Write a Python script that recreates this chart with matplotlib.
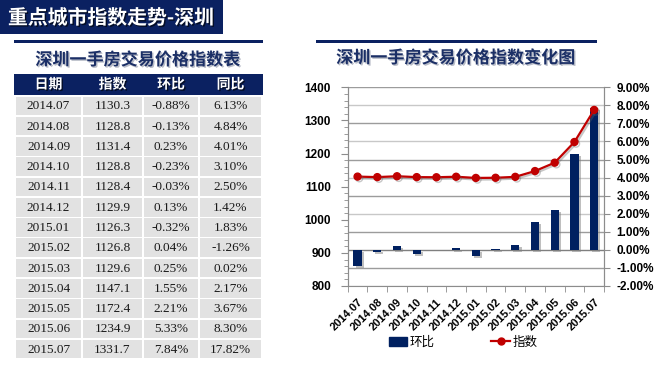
import numpy as np
import matplotlib
matplotlib.use("Agg")
import matplotlib.pyplot as plt
import matplotlib.patheffects as pe
from matplotlib.patches import Rectangle
from matplotlib.lines import Line2D
from matplotlib.ticker import MultipleLocator, FuncFormatter

# ── Data ──────────────────────────────────────────────────────────────────────
dates = ["2014.07", "2014.08", "2014.09", "2014.10", "2014.11", "2014.12",
         "2015.01", "2015.02", "2015.03", "2015.04", "2015.05", "2015.06",
         "2015.07"]
index_vals = [1130.3, 1128.8, 1131.4, 1128.8, 1128.4, 1129.9, 1126.3,
              1126.8, 1129.6, 1147.1, 1172.4, 1234.9, 1331.7]
mom_pct = [-0.88, -0.13, 0.23, -0.23, -0.03, 0.13, -0.32, 0.04, 0.25,
           1.55, 2.21, 5.33, 7.84]
yoy_pct = [6.13, 4.84, 4.01, 3.10, 2.50, 1.42, 1.83, -1.26, 0.02, 2.17,
           3.67, 8.30, 17.82]
headers = ["日期", "指数", "环比", "同比"]

banner_title = "重点城市指数走势-深圳"
table_title = "深圳一手房交易价格指数表"
chart_title = "深圳一手房交易价格指数变化图"

# ── Style ─────────────────────────────────────────────────────────────────────
NAVY = "#0b2161"
TITLE_NAVY = "#1b2f66"
CELL_GRAY = "#e2e2e2"
RED = "#c00000"
BAR_NAVY = "#002060"
AXIS_GRAY = "#8c8c8c"
CJK = ["Noto Sans CJK SC", "DejaVu Sans"]

W, H = 657, 371
plt.rcParams["font.family"] = ["Liberation Sans", "Noto Sans CJK SC"]

fig = plt.figure(figsize=(W / 100, H / 100), dpi=100)

# background axes in pixel coordinates for the banner + table
bg = fig.add_axes([0, 0, 1, 1])
bg.set_xlim(0, W)
bg.set_ylim(H, 0)
bg.axis("off")

shadow = [pe.withSimplePatchShadow(offset=(1, -1), shadow_rgbFace="#000000", alpha=0.6)]
soft_shadow = [pe.withSimplePatchShadow(offset=(1, -1), shadow_rgbFace="#9aa0b0", alpha=0.7)]

# banner
bg.add_patch(Rectangle((0, 0), 223, 34, color=NAVY, lw=0))
bg.text(111, 17.5, banner_title, color="white", fontsize=14.3, fontweight="bold",
        family=CJK, ha="center", va="center", path_effects=shadow)

# rules under the banner
bg.add_patch(Rectangle((14, 39.5), 249, 3, color=NAVY, lw=0))
bg.add_patch(Rectangle((316, 39.5), 281, 3, color=NAVY, lw=0))

# titles
bg.text(138, 60, table_title, color=TITLE_NAVY, fontsize=12.3, fontweight="bold",
        family=CJK, ha="center", va="center", path_effects=soft_shadow)
bg.text(456, 58, chart_title, color=TITLE_NAVY, fontsize=12.3, fontweight="bold",
        family=CJK, ha="center", va="center", path_effects=soft_shadow)

# table
col_x = [(16, 81), (83, 142), (144, 198), (200, 261)]
bg.add_patch(Rectangle((14, 74), 249, 21, color=NAVY, lw=0))
for (x0, x1), h in zip(col_x, headers):
    bg.text((x0 + x1) / 2, 84.5, h, color="white", fontsize=10, fontweight="bold",
            family=CJK, ha="center", va="center", path_effects=shadow)

row_top, row_pitch, row_h = 96.6, 20.27, 18.6
for i in range(len(dates)):
    y0 = row_top + i * row_pitch
    cells = [dates[i], f"{index_vals[i]:.1f}", f"{mom_pct[i]:.2f}%", f"{yoy_pct[i]:.2f}%"]
    for (x0, x1), txt in zip(col_x, cells):
        bg.add_patch(Rectangle((x0, y0), x1 - x0, row_h, color=CELL_GRAY, lw=0))
        bg.text((x0 + x1) / 2, y0 + row_h / 2 + 0.5, txt, color="#1a1a1a",
                fontsize=9.5, family="Liberation Serif", ha="center", va="center")

# ── Chart ─────────────────────────────────────────────────────────────────────
left, right, top, bottom = 347.7, 604.0, 87.3, 286.0
ax = fig.add_axes([left / W, (H - bottom) / H, (right - left) / W, (bottom - top) / H])
ax2 = ax.twinx()
ax.set_zorder(ax2.get_zorder() + 1)
ax.patch.set_visible(False)

x = np.arange(len(dates))

# bars: month-on-month change on the right axis
bars = ax2.bar(x, mom_pct, width=0.42, color=BAR_NAVY, zorder=3)
for b in bars:
    b.set_path_effects([pe.SimplePatchShadow(offset=(1.5, -1.5), shadow_rgbFace="#808080", alpha=0.5),
                        pe.Normal()])
ax2.set_ylim(-2, 9)
ax2.yaxis.set_major_locator(MultipleLocator(1))
ax2.yaxis.set_major_formatter(FuncFormatter(lambda v, _: f"{v:.2f}%"))
ax2.grid(axis="y", lw=1.0, zorder=0)
for val, gl in zip(ax2.get_yticks(), ax2.get_ygridlines()):
    if abs(val) < 1e-9:
        gl.set_color("#7f7f7f")
    elif int(round(val)) % 2:
        gl.set_color("#9c9c9c")
    else:
        gl.set_color("#c8c8c8")

# line: index value on the left axis
ax.plot(x, index_vals, color=RED, lw=1.6, marker="o", markersize=5, zorder=5,
        path_effects=[pe.SimpleLineShadow(offset=(1.2, -1.2), shadow_color="#606060", alpha=0.35),
                      pe.Normal()])
ax.set_ylim(800, 1400)
ax.yaxis.set_major_locator(MultipleLocator(100))
ax.yaxis.set_minor_locator(MultipleLocator(20))
ax.set_xlim(-0.5, len(dates) - 0.5)
ax.set_xticks(x)
ax.set_xticklabels(dates, rotation=45, ha="right", rotation_mode="anchor",
                   fontsize=8, fontweight="bold")
ax.set_xticks(np.arange(len(dates) + 1) - 0.5, minor=True)
ax.tick_params(axis="x", which="major", length=0, pad=8)
ax.tick_params(axis="x", which="minor", length=4, color=AXIS_GRAY, direction="out")
ax.tick_params(axis="y", which="major", length=5, color=AXIS_GRAY, labelsize=8.5, pad=7)
ax.tick_params(axis="y", which="minor", length=3, color=AXIS_GRAY)
for lab in ax.get_yticklabels():
    lab.set_fontweight("bold")

ax2.tick_params(axis="y", length=4, color=AXIS_GRAY, labelsize=8.5, pad=5)
for lab in ax2.get_yticklabels():
    lab.set_fontweight("bold")

for a in (ax, ax2):
    a.spines["top"].set_visible(False)
    for s in ("left", "right", "bottom"):
        a.spines[s].set_color(AXIS_GRAY)
ax2.spines["bottom"].set_visible(False)

# legend
handles = [Rectangle((0, 0), 1, 1, color=BAR_NAVY),
           Line2D([], [], color=RED, lw=1.6, marker="o", markersize=5)]
fig.legend(handles, ["环比", "指数"], loc="center", bbox_to_anchor=(463 / W, (H - 342) / H),
           ncol=2, frameon=False, columnspacing=4.5, handlelength=1.5, handletextpad=0.2,
           prop={"family": CJK, "size": 9})

fig.savefig("out.png", dpi=100)
